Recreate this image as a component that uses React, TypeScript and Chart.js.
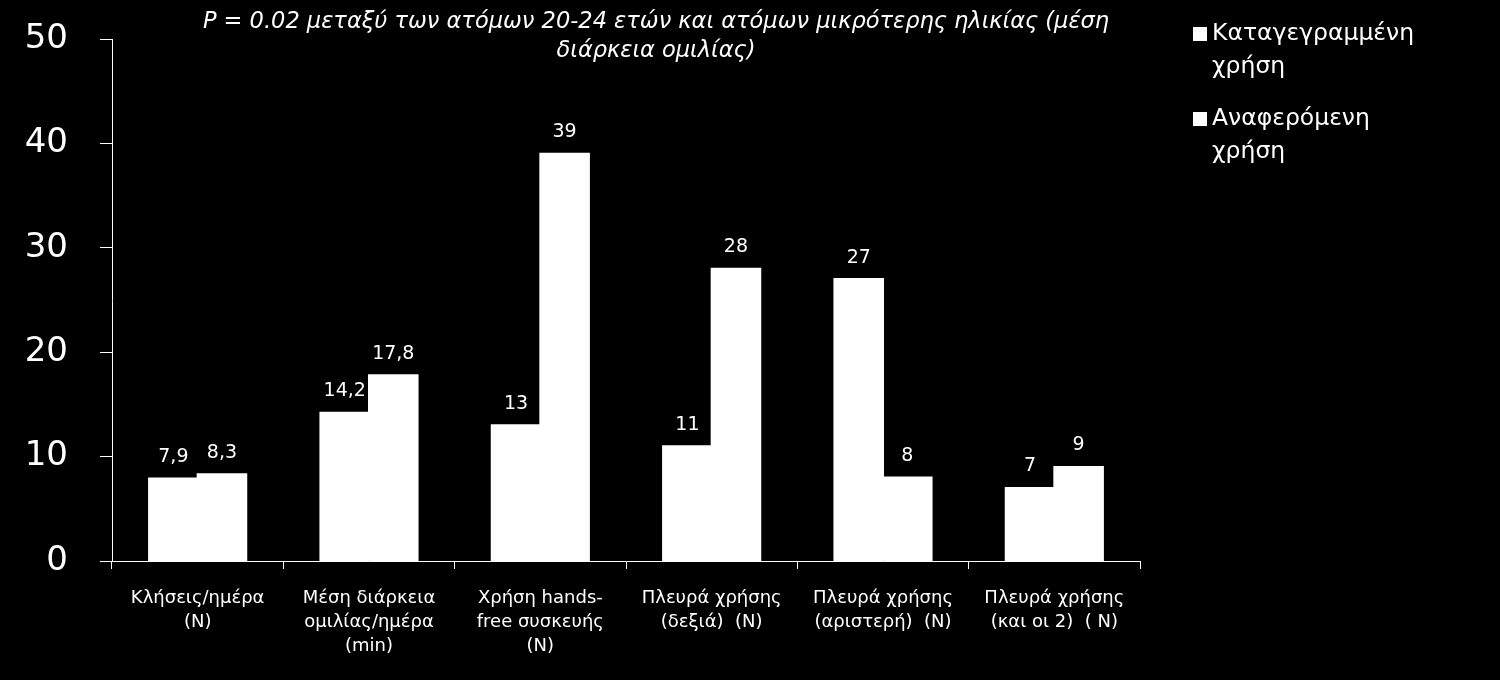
import React, { useEffect, useRef } from "react";
import { Chart, registerables } from "chart.js";

Chart.register(...registerables);

const categories: string[][] = [
  ["Κλήσεις/ημέρα", "(N)"],
  ["Μέση διάρκεια", "ομιλίας/ημέρα", "(min)"],
  ["Χρήση hands-", "free συσκευής", "(N)"],
  ["Πλευρά χρήσης", "(δεξιά)  (N)"],
  ["Πλευρά χρήσης", "(αριστερή)  (N)"],
  ["Πλευρά χρήσης", "(και οι 2)  ( N)"],
];
const recorded: number[] = [7.9, 14.2, 13, 11, 27, 7];
const reported: number[] = [8.3, 17.8, 39, 28, 8, 9];
const seriesNames: string[][] = [
  ["Καταγεγραμμένη", "χρήση"],
  ["Αναφερόμενη", "χρήση"],
];
const titleLines: string[] = [
  "P = 0.02 μεταξύ των ατόμων 20-24 ετών και ατόμων μικρότερης ηλικίας (μέση",
  "διάρκεια ομιλίας)",
];
const yMax = 50;
const yStep = 10;

const FONT = "'DejaVu Sans', sans-serif";

const fmt = (v: number) => String(v).replace(".", ",");

const overlayPlugin = {
  id: "overlay",
  afterDatasetsDraw(chart: any) {
    const ctx = chart.ctx;
    const area = chart.chartArea;
    ctx.save();
    ctx.fillStyle = "#ffffff";
    // data labels
    ctx.font = `19px ${FONT}`;
    ctx.textAlign = "center";
    ctx.textBaseline = "bottom";
    chart.data.datasets.forEach((ds: any, di: number) => {
      const meta = chart.getDatasetMeta(di);
      meta.data.forEach((bar: any, i: number) => {
        ctx.fillText(fmt(ds.data[i]), bar.x, bar.y - 12);
      });
    });
    // title
    ctx.font = `italic 22.5px ${FONT}`;
    ctx.textBaseline = "middle";
    const cx = (area.left + area.right) / 2 + 30;
    titleLines.forEach((t, i) => ctx.fillText(t, cx, 22 + i * 29));
    // legend
    ctx.textAlign = "left";
    ctx.font = `23.5px ${FONT}`;
    seriesNames.forEach((lines, i) => {
      const y0 = 34 + i * 85;
      ctx.fillRect(1193, y0 - 7, 14, 14);
      lines.forEach((l, j) => ctx.fillText(l, 1212, y0 + j * 33));
    });
    ctx.restore();
  },
};

export default function App() {
  const ref = useRef<HTMLCanvasElement | null>(null);
  useEffect(() => {
    document.body.style.margin = "0";
    document.body.style.background = "#000";
    const chart = new Chart(ref.current as HTMLCanvasElement, {
      type: "bar",
      data: {
        labels: categories as any,
        datasets: [
          {
            label: seriesNames[0].join(" "),
            data: recorded,
            backgroundColor: "#ffffff",
            borderWidth: 0,
            inflateAmount: 1,
          },
          {
            label: seriesNames[1].join(" "),
            data: reported,
            backgroundColor: "#ffffff",
            borderWidth: 0,
            inflateAmount: 1,
          },
        ],
      },
      options: {
        animation: false,
        responsive: false,
        layout: { padding: { top: 39, right: 360, left: 0, bottom: 0 } },
        datasets: {
          bar: { categoryPercentage: 0.567, barPercentage: 1.0 },
        },
        plugins: {
          legend: { display: false },
          title: { display: false },
          tooltip: { enabled: false },
        },
        scales: {
          x: {
            offset: true,
            afterFit: (s: any) => {
              s.height = 119;
              s.paddingLeft = 0;
              s.paddingRight = 0;
            },
            grid: {
              display: true,
              drawOnChartArea: false,
              offset: true,
              tickLength: 8,
              color: "#ffffff",
            },
            border: { color: "#ffffff", width: 1 },
            ticks: {
              color: "#ffffff",
              font: { family: FONT, size: 18, lineHeight: 1.33 },
              padding: 17,
              maxRotation: 0,
              autoSkip: false,
            },
          },
          y: {
            min: 0,
            max: yMax,
            afterFit: (s: any) => {
              s.width = 112;
              s.paddingTop = 0;
              s.paddingBottom = 0;
            },
            grid: {
              display: true,
              drawOnChartArea: false,
              tickLength: 12,
              color: "#ffffff",
            },
            border: { color: "#ffffff", width: 1 },
            ticks: {
              stepSize: yStep,
              color: "#ffffff",
              font: { family: FONT, size: 34 },
              padding: 32,
            },
          },
        },
      },
      plugins: [overlayPlugin],
    });
    return () => chart.destroy();
  }, []);
  return (
    <div style={{ width: 1500, height: 680, background: "#000" }}>
      <canvas ref={ref} width={1500} height={680} style={{ display: "block" }} />
    </div>
  );
}
